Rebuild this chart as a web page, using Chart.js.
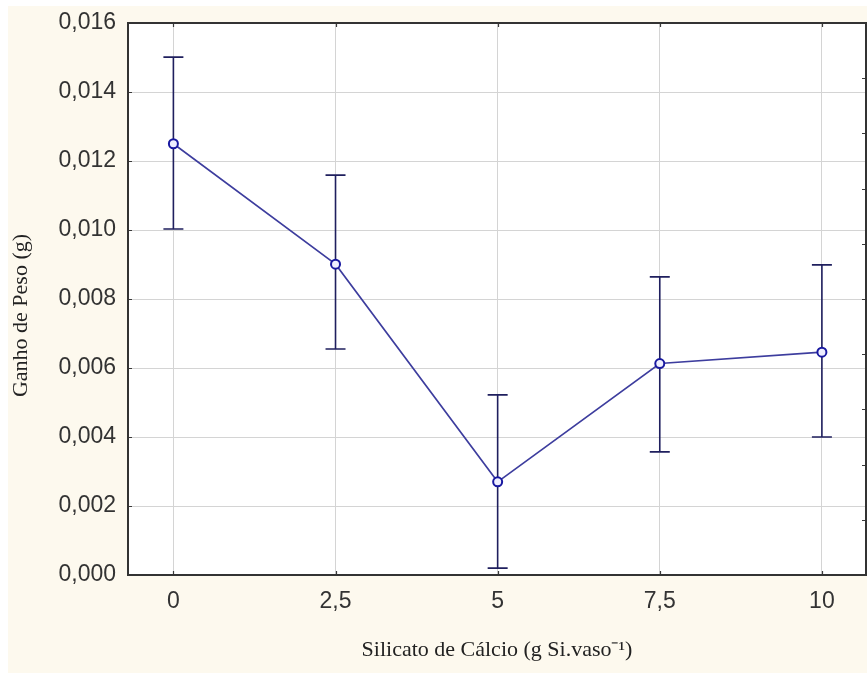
<!DOCTYPE html>
<html>
<head>
<meta charset="utf-8">
<script src="https://cdn.jsdelivr.net/npm/chart.js@4/dist/chart.umd.min.js"></script>
<style>
  html, body { margin: 0; padding: 0; background: #ffffff; }
  #wrap { position: relative; width: 867px; height: 673px; overflow: hidden; }
  #paper { position: absolute; left: 8px; top: 6px; width: 859px; height: 667px; background: #fdf9ee; }
  #c { position: absolute; left: 0; top: 0; }
</style>
</head>
<body>
<div id="wrap">
  <div id="paper"></div>
  <canvas id="c" width="867" height="673"></canvas>
</div>
<script>
// Doses of calcium silicate and mean weight gain with standard-error limits
const doses = [0, 2.5, 5, 7.5, 10];
const meanGain = [0.01250, 0.00901, 0.00270, 0.00613, 0.00646];
const upperGain = [0.01501, 0.01159, 0.00522, 0.00864, 0.00899];
const lowerGain = [0.01003, 0.00655, 0.00020, 0.00357, 0.00400];
const xTicks = [0, 2.5, 5, 7.5, 10];
const yTicks = [0, 0.002, 0.004, 0.006, 0.008, 0.010, 0.012, 0.014, 0.016];
const rightTicks = [0, 1, 2, 3, 4, 5, 6, 7, 8, 9, 10];

const fmtComma = (v, d) => v.toFixed(d).replace('.', ',');

// Whisker plot: vertical bars with caps, drawn under the line and markers
const errorBars = {
  id: 'errorBars',
  beforeDatasetsDraw(chart) {
    const { ctx, scales: { x, y } } = chart;
    ctx.save();
    ctx.strokeStyle = '#1f1f5e';
    ctx.lineWidth = 1.6;
    doses.forEach((d, i) => {
      const px = x.getPixelForValue(d);
      const top = y.getPixelForValue(upperGain[i]);
      const bot = y.getPixelForValue(lowerGain[i]);
      ctx.beginPath();
      ctx.moveTo(px, top); ctx.lineTo(px, bot);
      ctx.moveTo(px - 10, top); ctx.lineTo(px + 10, top);
      ctx.moveTo(px - 10, bot); ctx.lineTo(px + 10, bot);
      ctx.stroke();
    });
    ctx.restore();
  }
};

// Plot frame with short inward tick marks on all four sides
const frame = {
  id: 'frame',
  afterDraw(chart) {
    const { ctx, chartArea: a, scales: { x, y, y2 } } = chart;
    const len = 4;
    ctx.save();
    ctx.strokeStyle = '#3a3a3a';
    ctx.lineWidth = 1.2;
    ctx.beginPath();
    xTicks.forEach(v => {
      const px = Math.round(x.getPixelForValue(v)) + 0.5;
      ctx.moveTo(px, a.top); ctx.lineTo(px, a.top + len);
      ctx.moveTo(px, a.bottom); ctx.lineTo(px, a.bottom - len);
    });
    yTicks.forEach(v => {
      const py = Math.round(y.getPixelForValue(v)) + 0.5;
      ctx.moveTo(a.left, py); ctx.lineTo(a.left + len, py);
    });
    rightTicks.forEach(v => {
      const py = Math.round(y2.getPixelForValue(v)) + 0.5;
      ctx.moveTo(a.right, py); ctx.lineTo(a.right - len, py);
    });
    ctx.stroke();
    ctx.lineWidth = 2;
    ctx.strokeStyle = '#333333';
    ctx.strokeRect(a.left, a.top, a.right - a.left, a.bottom - a.top);
    ctx.restore();
  }
};

// White plot background
const plotFill = {
  id: 'plotFill',
  beforeDraw(chart) {
    const { ctx, chartArea: a } = chart;
    ctx.save();
    ctx.fillStyle = '#ffffff';
    ctx.fillRect(a.left, a.top, a.right - a.left, a.bottom - a.top);
    ctx.restore();
  }
};

new Chart(document.getElementById('c'), {
  type: 'line',
  data: {
    datasets: [{
      data: doses.map((d, i) => ({ x: d, y: meanGain[i] })),
      borderColor: '#3d3d9e',
      borderWidth: 1.6,
      pointRadius: 4.5,
      pointBorderWidth: 2,
      pointBorderColor: '#1818a0',
      pointBackgroundColor: '#eeeeff',
      tension: 0,
      fill: false
    }]
  },
  options: {
    responsive: false,
    animation: false,
    devicePixelRatio: 1,
    layout: { autoPadding: false, padding: { left: 0, top: 23, right: 1, bottom: 0 } },
    plugins: { legend: { display: false }, tooltip: { enabled: false } },
    scales: {
      x: {
        type: 'linear',
        min: -0.7,
        max: 10.68,
        afterBuildTicks: s => { s.ticks = xTicks.map(v => ({ value: v })); },
        afterFit: s => { s.height = 98; s.paddingRight = 0; s.paddingLeft = 0; },
        ticks: {
          callback: v => (Number.isInteger(v) ? String(v) : fmtComma(v, 1)),
          color: '#333333',
          font: { family: 'Liberation Sans', size: 23 },
          padding: 13
        },
        grid: { color: '#d4d4d4', lineWidth: 1, drawTicks: false },
        border: { display: false },
        title: {
          display: true,
          text: 'Silicato de Cálcio (g Si.vaso⁻¹)',
          color: '#222222',
          font: { family: 'Liberation Serif', size: 22 },
          padding: { top: 0, bottom: 10 }
        }
      },
      y: {
        type: 'linear',
        min: 0,
        max: 0.016,
        afterBuildTicks: s => { s.ticks = yTicks.map(v => ({ value: v })); },
        afterFit: s => { s.width = 128; s.paddingTop = 0; s.paddingBottom = 0; },
        ticks: {
          callback: v => fmtComma(v, 3),
          color: '#333333',
          font: { family: 'Liberation Sans', size: 23 },
          padding: 12
        },
        grid: { color: '#d4d4d4', lineWidth: 1, drawTicks: false },
        border: { display: false },
        title: {
          display: true,
          // trailing spaces nudge the rotated title slightly below the axis centre
          text: 'Ganho de Peso (g)\u2003\u2002',
          color: '#222222',
          font: { family: 'Liberation Serif', size: 22 },
          padding: { top: 8, bottom: 0 }
        }
      },
      y2: {
        type: 'linear',
        position: 'right',
        display: false,
        min: 0,
        max: 10,
        afterFit: s => { s.width = 0; }
      }
    }
  },
  plugins: [plotFill, errorBars, frame]
});
</script>
</body>
</html>
